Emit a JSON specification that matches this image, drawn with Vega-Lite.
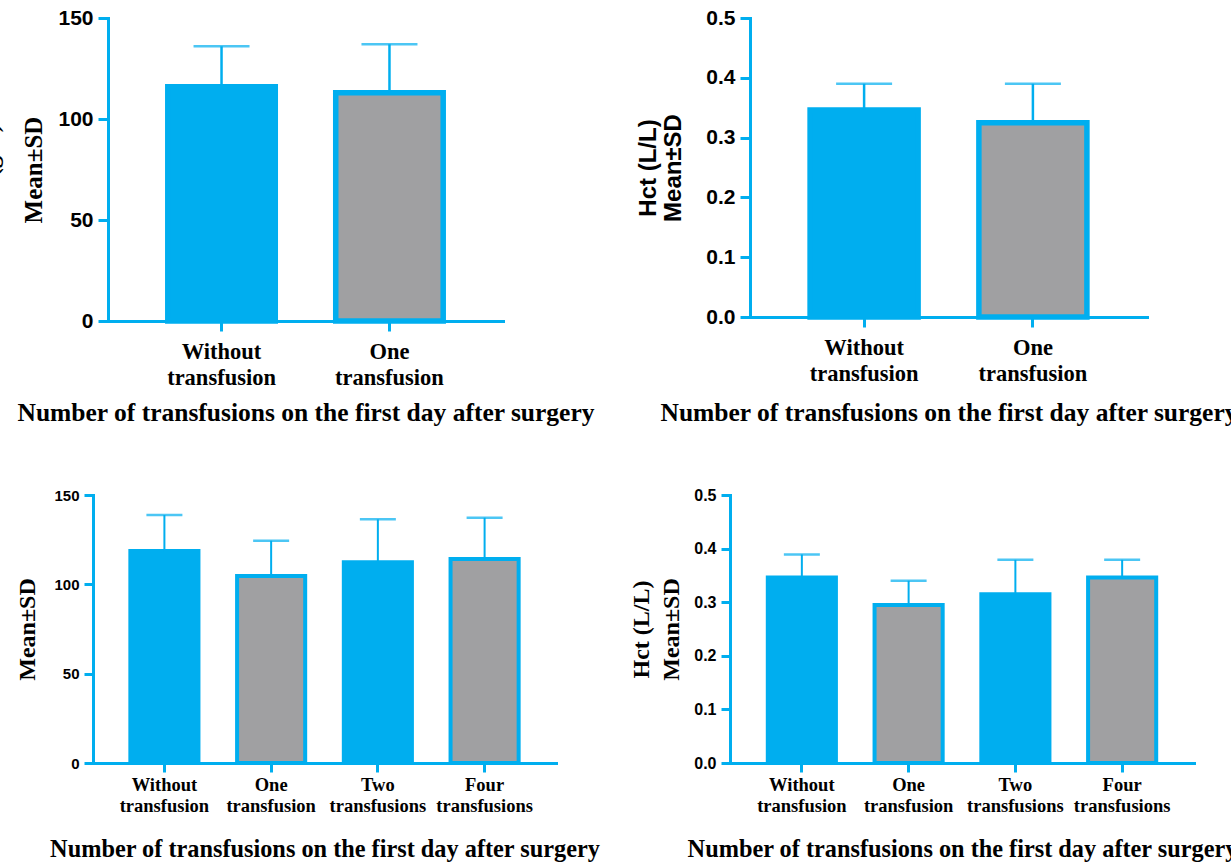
{
  "$schema": "https://vega.github.io/schema/vega-lite/v6.json",
  "padding": {"left": -65, "top": 7, "right": 0, "bottom": 0},
  "background": "white",
  "config": {
    "view": {"stroke": null},
    "axis": {"grid": false, "domainColor": "#00AEEF", "tickColor": "#00AEEF", "labelColor": "black", "titleColor": "black", "labelFontWeight": "bold", "titleFontWeight": "bold", "domainWidth": 3, "tickWidth": 3, "domainCap": "square"}
  },
  "datasets": {
    "hb1": [
      {"group": "Without transfusion", "kind": "none", "mean": 116, "upper": 136},
      {"group": "One transfusion", "kind": "transfused", "mean": 113, "upper": 137}
    ],
    "hct1": [
      {"group": "Without transfusion", "kind": "none", "mean": 0.346, "upper": 0.39},
      {"group": "One transfusion", "kind": "transfused", "mean": 0.325, "upper": 0.39}
    ],
    "hb2": [
      {"group": "Without transfusion", "kind": "none", "mean": 118.6, "upper": 138.8},
      {"group": "One transfusion", "kind": "transfused", "mean": 104.6, "upper": 124.4},
      {"group": "Two transfusions", "kind": "none", "mean": 112.3, "upper": 136.4},
      {"group": "Four transfusions", "kind": "transfused", "mean": 114.2, "upper": 137.3}
    ],
    "hct2": [
      {"group": "Without transfusion", "kind": "none", "mean": 0.346, "upper": 0.389},
      {"group": "One transfusion", "kind": "transfused", "mean": 0.295, "upper": 0.34},
      {"group": "Two transfusions", "kind": "none", "mean": 0.315, "upper": 0.379},
      {"group": "Four transfusions", "kind": "transfused", "mean": 0.346, "upper": 0.379}
    ],
    "empty": []
  },
  "spacing": 61,
  "vconcat": [
    {
      "spacing": 41,
      "hconcat": [
        {"width": 1, "height": 1, "data": {"name": "empty"}, "mark": "point"},
        {
          "width": 395, "height": 303,
          "data": {"name": "hb1"},
          "encoding": {
            "x": {"field": "group", "type": "nominal", "sort": null,
              "scale": {"paddingInner": 0.36, "paddingOuter": 0.356},
              "title": "Number of transfusions on the first day after surgery",
              "axis": {"labelAngle": 0, "labelExpr": "split(datum.label, ' ')", "labelFont": "Liberation Serif", "labelFontSize": 22.5, "labelLineHeight": 26, "labelPadding": 9, "tickSize": 10, "titleFont": "Liberation Serif", "titleFontSize": 25.5, "titlePadding": 12}}
          },
          "layer": [
            {"mark": {"type": "bar", "stroke": "#00AEEF", "strokeWidth": 5.5},
             "encoding": {
               "y": {"field": "mean", "type": "quantitative", "scale": {"domain": [0, 150], "nice": false}, "title": ["Hb (g/L)", "Mean±SD"],
                 "axis": {"values": [0, 50, 100, 150], "labelFont": "Liberation Sans", "labelFontSize": 21, "labelPadding": 5, "tickSize": 10, "titleFont": "Liberation Serif", "titleFontSize": 25, "titleLineHeight": 44, "titlePadding": 11}},
               "fill": {"field": "kind", "type": "nominal", "scale": {"domain": ["none", "transfused"], "range": ["#00AEEF", "#A0A0A2"]}, "legend": null}
             }},
            {"mark": {"type": "rule", "color": "#00AEEF", "strokeWidth": 2.5},
             "encoding": {"y": {"field": "mean", "type": "quantitative", "title": ["Hb (g/L)", "Mean±SD"]}, "y2": {"field": "upper"}}},
            {"mark": {"type": "tick", "color": "#00AEEF", "size": 56, "thickness": 2.5, "orient": "horizontal"},
             "encoding": {"y": {"field": "upper", "type": "quantitative", "title": ["Hb (g/L)", "Mean±SD"]}}}
          ]
        },
        {
          "width": 397, "height": 299,
          "data": {"name": "hct1"},
          "encoding": {
            "x": {"field": "group", "type": "nominal", "sort": null,
              "scale": {"paddingInner": 0.36, "paddingOuter": 0.356},
              "title": "Number of transfusions on the first day after surgery",
              "axis": {"labelAngle": 0, "labelExpr": "split(datum.label, ' ')", "labelFont": "Liberation Serif", "labelFontSize": 22.5, "labelLineHeight": 26, "labelPadding": 9, "tickSize": 10, "titleFont": "Liberation Serif", "titleFontSize": 25.5, "titlePadding": 16}}
          },
          "layer": [
            {"mark": {"type": "bar", "stroke": "#00AEEF", "strokeWidth": 5.5},
             "encoding": {
               "y": {"field": "mean", "type": "quantitative", "scale": {"domain": [0, 0.5], "nice": false}, "title": ["Hct (L/L)", "Mean±SD"],
                 "axis": {"values": [0, 0.1, 0.2, 0.3, 0.4, 0.5], "format": ".1f", "labelFont": "Liberation Sans", "labelFontSize": 21, "labelPadding": 5, "tickSize": 10, "titleFont": "Liberation Sans", "titleFontSize": 24, "titleLineHeight": 25, "titlePadding": 20}},
               "fill": {"field": "kind", "type": "nominal", "scale": {"domain": ["none", "transfused"], "range": ["#00AEEF", "#A0A0A2"]}, "legend": null}
             }},
            {"mark": {"type": "rule", "color": "#00AEEF", "strokeWidth": 2.5},
             "encoding": {"y": {"field": "mean", "type": "quantitative", "title": ["Hct (L/L)", "Mean±SD"]}, "y2": {"field": "upper"}}},
            {"mark": {"type": "tick", "color": "#00AEEF", "size": 56, "thickness": 2.5, "orient": "horizontal"},
             "encoding": {"y": {"field": "upper", "type": "quantitative", "title": ["Hct (L/L)", "Mean±SD"]}}}
          ]
        }
      ]
    },
    {
      "spacing": 29,
      "hconcat": [
        {"width": 9, "height": 1, "data": {"name": "empty"}, "mark": "point"},
        {
          "width": 463, "height": 268,
          "data": {"name": "hb2"},
          "encoding": {
            "x": {"field": "group", "type": "nominal", "sort": null,
              "scale": {"paddingInner": 0.362, "paddingOuter": 0.35},
              "title": "Number of transfusions on the first day after surgery",
              "axis": {"labelAngle": 0, "labelExpr": "split(datum.label, ' ')", "labelFont": "Liberation Serif", "labelFontSize": 18.5, "labelLineHeight": 21, "labelPadding": 3, "tickSize": 9, "titleFont": "Liberation Serif", "titleFontSize": 24.3, "titlePadding": 23}}
          },
          "layer": [
            {"mark": {"type": "bar", "stroke": "#00AEEF", "strokeWidth": 4},
             "encoding": {
               "y": {"field": "mean", "type": "quantitative", "scale": {"domain": [0, 150], "nice": false}, "title": ["Hb (g/L)", "Mean±SD"],
                 "axis": {"values": [0, 50, 100, 150], "labelFont": "Liberation Sans", "labelFontSize": 15, "labelPadding": 5, "tickSize": 9, "titleFont": "Liberation Serif", "titleFontSize": 24, "titleLineHeight": 42, "titlePadding": 14}},
               "fill": {"field": "kind", "type": "nominal", "scale": {"domain": ["none", "transfused"], "range": ["#00AEEF", "#A0A0A2"]}, "legend": null}
             }},
            {"mark": {"type": "rule", "color": "#00AEEF", "strokeWidth": 2},
             "encoding": {"y": {"field": "mean", "type": "quantitative", "title": ["Hb (g/L)", "Mean±SD"]}, "y2": {"field": "upper"}}},
            {"mark": {"type": "tick", "color": "#00AEEF", "size": 36, "thickness": 2.5, "orient": "horizontal"},
             "encoding": {"y": {"field": "upper", "type": "quantitative", "title": ["Hb (g/L)", "Mean±SD"]}}}
          ]
        },
        {
          "width": 464, "height": 268,
          "data": {"name": "hct2"},
          "encoding": {
            "x": {"field": "group", "type": "nominal", "sort": null,
              "scale": {"paddingInner": 0.362, "paddingOuter": 0.354},
              "title": "Number of transfusions on the first day after surgery",
              "axis": {"labelAngle": 0, "labelExpr": "split(datum.label, ' ')", "labelFont": "Liberation Serif", "labelFontSize": 18.5, "labelLineHeight": 21, "labelPadding": 3, "tickSize": 9, "titleFont": "Liberation Serif", "titleFontSize": 24.3, "titlePadding": 23}}
          },
          "layer": [
            {"mark": {"type": "bar", "stroke": "#00AEEF", "strokeWidth": 4},
             "encoding": {
               "y": {"field": "mean", "type": "quantitative", "scale": {"domain": [0, 0.5], "nice": false}, "title": ["Hct (L/L)", "Mean±SD"],
                 "axis": {"values": [0, 0.1, 0.2, 0.3, 0.4, 0.5], "format": ".1f", "labelFont": "Liberation Sans", "labelFontSize": 16, "labelPadding": 5, "tickSize": 9, "titleFont": "Liberation Serif", "titleFontSize": 24, "titleLineHeight": 30, "titlePadding": 10}},
               "fill": {"field": "kind", "type": "nominal", "scale": {"domain": ["none", "transfused"], "range": ["#00AEEF", "#A0A0A2"]}, "legend": null}
             }},
            {"mark": {"type": "rule", "color": "#00AEEF", "strokeWidth": 2},
             "encoding": {"y": {"field": "mean", "type": "quantitative", "title": ["Hct (L/L)", "Mean±SD"]}, "y2": {"field": "upper"}}},
            {"mark": {"type": "tick", "color": "#00AEEF", "size": 36, "thickness": 2.5, "orient": "horizontal"},
             "encoding": {"y": {"field": "upper", "type": "quantitative", "title": ["Hct (L/L)", "Mean±SD"]}}}
          ]
        }
      ]
    }
  ]
}
